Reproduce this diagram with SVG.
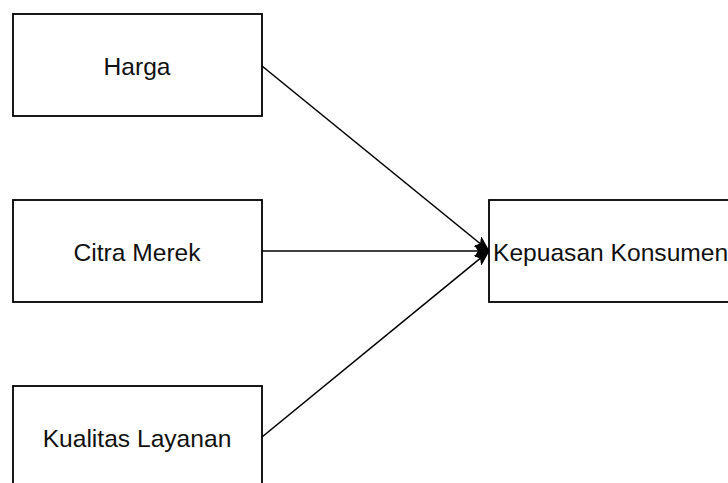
<svg xmlns="http://www.w3.org/2000/svg" width="728" height="483" viewBox="0 0 728 483">
<style>
.box{fill:#fff;stroke:#000;stroke-width:1.8}
.lbl{font-family:"Liberation Sans",Arial,sans-serif;font-size:24.6px;fill:#111}
.edge{stroke:#000;stroke-width:1.6;fill:none}
</style>
<defs>
<marker id="arr" viewBox="0 0 14 12" refX="13" refY="6" markerWidth="14" markerHeight="12" markerUnits="userSpaceOnUse" orient="auto">
<path d="M0,0.5 L14,6 L0,11.5 L3.5,6 Z" fill="#000" stroke="#000" stroke-width="1"/>
</marker>
</defs>
<g id="harga">
<rect class="box" x="13" y="14" width="249" height="102"/>
<text class="lbl" x="137" y="75" text-anchor="middle">Harga</text>
</g>
<g id="citra-merek">
<rect class="box" x="13" y="200" width="249" height="102"/>
<text class="lbl" x="137" y="261" text-anchor="middle">Citra Merek</text>
</g>
<g id="kualitas-layanan">
<rect class="box" x="13" y="386" width="249" height="102"/>
<text class="lbl" x="137" y="447" text-anchor="middle">Kualitas Layanan</text>
</g>
<g id="kepuasan-konsumen">
<rect class="box" x="489" y="200" width="260" height="102"/>
<text class="lbl" x="493" y="261">Kepuasan Konsumen</text>
</g>
<g id="connectors">
<line class="edge" x1="262" y1="66" x2="488" y2="250" marker-end="url(#arr)"/>
<line class="edge" x1="262" y1="251" x2="488" y2="251" marker-end="url(#arr)"/>
<line class="edge" x1="262" y1="437" x2="488" y2="252" marker-end="url(#arr)"/>
</g>
</svg>
